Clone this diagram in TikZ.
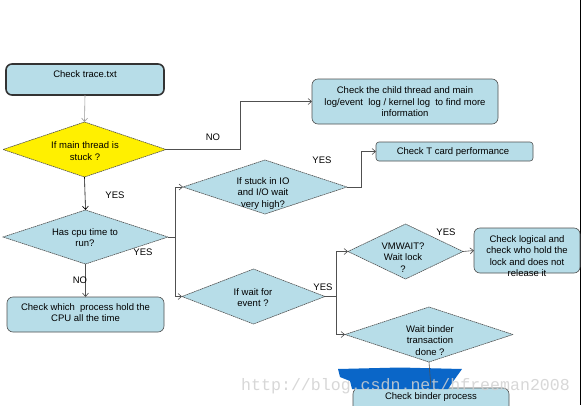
\documentclass[tikz,border=0pt]{standalone}
\usepackage{fontspec}
\setmainfont{Liberation Sans}
\newfontfamily\wmfont{Liberation Mono}
\usetikzlibrary{shapes.geometric,arrows.meta}
\definecolor{boxfill}{HTML}{B7DDE8}
\definecolor{ylw}{HTML}{FFF000}
\definecolor{linegray}{HTML}{505050}
\definecolor{blob}{HTML}{0A66C8}
\tikzset{
  box/.style={draw=linegray, line width=0.6pt, fill=boxfill, rounded corners=6pt, inner sep=0pt, outer sep=0pt},
  dia/.style={diamond, draw=linegray, line width=0.6pt, dash pattern=on 1.5pt off 0.6pt, fill=boxfill, inner sep=0pt, outer sep=0pt},
  txt/.style={align=center, font=\fontsize{9.5}{11.5}\selectfont, inner sep=0pt, text=black},
  lbl/.style={font=\fontsize{9.5}{11.5}\selectfont, inner sep=0pt, text=black},
  con/.style={draw=linegray, line width=0.6pt},
  arr/.style={con, -{Straight Barb[length=3.5pt,width=6pt]}},
}
\begin{document}
\begin{tikzpicture}[x=1pt,y=-1pt]
\useasboundingbox[fill=white] (0,0) rectangle (582,405);
% right frame edge
\draw[black, line width=0.8pt] (580.5,0) -- (580.5,405);

% boxes
\node[box, draw=black!80, line width=1.6pt, minimum width=158pt, minimum height=31pt] (trace) at (85,79.5) {};
\node[txt] (tracet) at (85,74) {Check trace.txt};

\node[box, minimum width=186pt, minimum height=45pt] (child) at (405,101.5) {};
\node[txt] (childt) at (405,102) {Check the child thread and main\\log/event\ \ log / kernel log\ \ to find more\\information};

\node[box, minimum width=157pt, minimum height=19pt, rounded corners=3pt] (tcard) at (454.5,151.5) {};
\node[txt] (tcardt) at (453,152) {Check T card performance};

\node[box, minimum width=157pt, minimum height=35pt] (cpubox) at (85.5,314.5) {};
\node[txt] (cpuboxt) at (85.5,312.7) {Check which\ \ process hold the\\CPU all the time};

\node[box, minimum width=106pt, minimum height=45pt] (logic) at (527,250.5) {};
\node[txt] (logict) at (527,256) {Check logical and\\check who hold the\\lock and does not\\release it};

\node[box, minimum width=156pt, minimum height=26pt] (binderbox) at (431,401) {};

% diamonds
\node[dia, fill=ylw, minimum width=163pt, minimum height=55pt] (d1) at (84.5,149.5) {};
\node[txt] (d1t) at (85,151) {If main thread is\\stuck ?};

\node[dia, minimum width=165pt, minimum height=54pt] (cpu) at (85.5,237) {};
\node[txt] (cput) at (85,237.5) {Has cpu time to\\run?};

\node[dia, minimum width=164pt, minimum height=54pt] (io) at (265,187) {};
\node[txt] (iot) at (263,193.5) {If stuck in IO\\and I/O wait\\very high?};

\node[dia, minimum width=143pt, minimum height=55pt] (event) at (253.5,296.5) {};
\node[txt] (eventt) at (253,297.5) {If wait for\\event ?};

\node[dia, minimum width=115pt, minimum height=55pt] (vm) at (405.5,251.5) {};
\node[txt] (vmt) at (403,257.5) {VMWAIT?\\Wait lock\\?};

\node[dia, minimum width=168pt, minimum height=55pt] (binder) at (429,334.5) {};
\node[txt] (bindert) at (430,340.5) {Wait binder\\transaction\\done ?};

% elbow coordinates
\coordinate (noX) at (240,149.5);
\coordinate (cpuX) at (175,237);
\coordinate (ioX) at (361,187);
\coordinate (evX) at (336,296.5);

% connectors
\draw[arr, draw=black!40] (trace.south) -- (d1.north);
\draw[arr] (d1.east) -- (noX) |- (child.west);
\draw[arr, draw=black] (d1.south) -- (cpu.north);
\draw[con] (cpu.east) -- (cpuX);
\draw[arr] (cpuX) |- (io.west);
\draw[arr] (cpuX) |- (event.west);
\draw[arr] (cpu.south) -- (cpubox.north);
\draw[arr] (io.east) -- (ioX) |- (tcard.west);
\draw[con] (event.east) -- (evX);
\draw[arr] (evX) |- (vm.west);
\draw[arr] (evX) |- (binder.west);
\draw[arr] (vm.east) -- (logic.west);

% labels
\node[lbl] (lno1) at (213,137) {NO};
\node[lbl] (lyes1) at (115,195) {YES};
\node[lbl] (lyes2) at (143,252) {YES};
\node[lbl] (lno2) at (80,280) {NO};
\node[lbl] (lyes3) at (322,160) {YES};
\node[lbl] (lyes4) at (323,287) {YES};
\node[lbl] (lyes5) at (446,232) {YES};

% scribble blob
\fill[blob] (338,369) -- (400,367.5) -- (462,369) -- (452,383) -- (448,389) -- (352,389) -- (350,381) -- (340,377) -- cycle;
\draw[con] (binder.south) -- (binderbox.north);
\node[txt] (bindertxt) at (431,397) {Check binder process};

% watermark
\node[anchor=base west, inner sep=0pt, text=black!18, opacity=0.85, font=\wmfont\fontsize{16.6}{18}\selectfont] (wm) at (241,390) {http://blog.csdn.net/hfreeman2008};
\end{tikzpicture}
\end{document}
